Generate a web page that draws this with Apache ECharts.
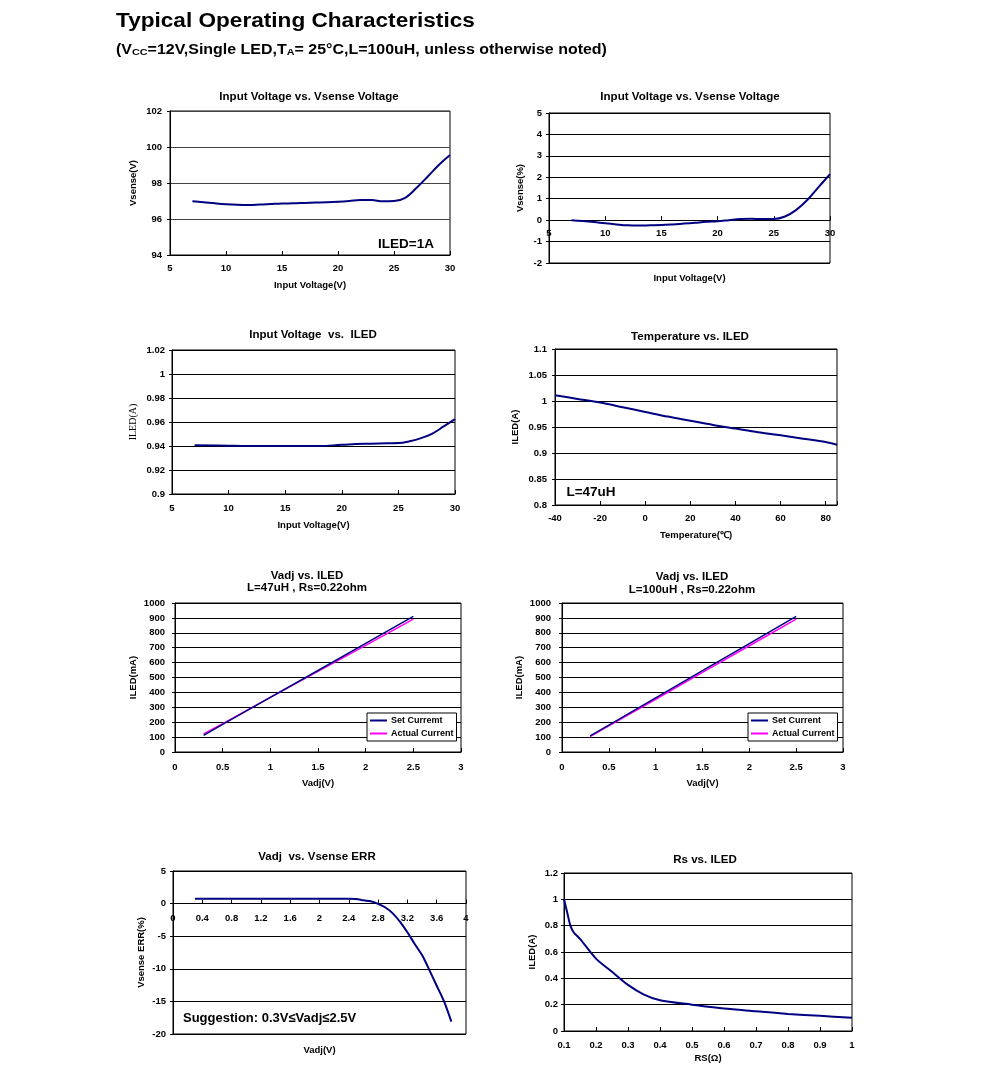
<!DOCTYPE html>
<html><head><meta charset="utf-8">
<script src="https://cdn.jsdelivr.net/npm/echarts@6/dist/echarts.min.js"></script>
<style>html,body{margin:0;padding:0;background:#fff}#c{width:991px;height:1073px}</style>
</head><body><div id="c"></div>
<script>
// ---- data ----
const c1X = [7,8,9,10,11,12,13,14,15,16,17,18,19,20,21,22,23,24,25,26,27,28,29,30];
const c1Y = [96.98,96.93,96.87,96.82,96.79,96.78,96.8,96.83,96.86,96.87,96.89,96.91,96.93,96.96,97.0,97.05,97.05,96.98,97.0,97.18,97.72,98.35,99.0,99.55];
const c2X = [7,8,9,10,11,12,13,14,15,16,17,18,19,20,21,22,23,24,25,26,27,28,29,30];
const c2Y = [0,-0.04,-0.09,-0.15,-0.2,-0.24,-0.25,-0.24,-0.23,-0.2,-0.16,-0.12,-0.08,-0.05,0,0.05,0.06,0.05,0.05,0.17,0.48,0.95,1.55,2.15];
const c3X = [7,10,12,15,18,20,22,24,25,26,27,28,29,30];
const c3Y = [0.9407,0.9402,0.940,0.940,0.940,0.941,0.9418,0.9422,0.9424,0.944,0.9466,0.9504,0.9563,0.9624];
const c4X = [-40,-30,-20,-10,0,10,20,30,40,50,60,70,80,85];
const c4Y = [1.011,1.004,0.997,0.988,0.979,0.970,0.962,0.954,0.947,0.940,0.934,0.9276,0.921,0.916];
const c5X = [0.3,0.5,1.0,1.5,2.0,2.5];
const c5Set = [112,185,366,547,729,910];
const c5Act = [122,191,366,541,716,892];
const c6X = [0.3,0.5,1.0,1.5,2.0,2.5];
const c6Set = [108,181,363,546,728,910];
const c6Act = [103,175,354,534,713,892];
const c7X = [0.3,0.8,1.2,1.6,2.0,2.4,2.5,2.6,2.7,2.8,2.9,3.0,3.1,3.2,3.3,3.4,3.45,3.5,3.6,3.7,3.8];
const c7Y = [0.75,0.75,0.75,0.75,0.75,0.75,0.72,0.5,0.35,-0.05,-0.6,-1.5,-2.8,-4.4,-6.2,-7.9,-9.0,-10.2,-12.6,-15.0,-18.1];
const c8X = [0.1,0.11,0.12,0.13,0.15,0.2,0.25,0.3,0.35,0.4,0.5,0.6,0.7,0.8,0.9,1.0];
const c8Y = [1.0,0.9,0.8,0.75,0.7,0.55,0.45,0.35,0.276,0.233,0.2,0.17,0.15,0.13,0.115,0.1];

const FONT = '"Liberation Sans", Arial, sans-serif';
const NAVY = '#000080', PINK = '#ff00ff';
const pairs = (xs, ys) => xs.map((x, i) => [x, ys[i]]);

const grids = [
  {left:170, top:111, width:280, height:144},
  {left:549, top:113, width:281, height:150},
  {left:172, top:350, width:283, height:144},
  {left:555, top:349, width:282, height:156},
  {left:175, top:603, width:286, height:149},
  {left:562, top:603, width:281, height:149},
  {left:173, top:871, width:293, height:163},
  {left:564, top:873, width:288, height:158}
].map(g => Object.assign({show:true, borderColor:'#000', borderWidth:1, backgroundColor:'#fff', containLabel:false, outerBoundsMode:'none'}, g));

// distance (px) from a grid's bottom edge up to its y=0 line, for axes drawn across zero
const zeroLift = (g, min, max) => g.height * (0 - min) / (max - min);

const lbl = (extra) => Object.assign({color:'#000', fontFamily:FONT, fontWeight:'bold', fontSize:9.5}, extra||{});
const nameStyle = (extra) => Object.assign({color:'#000', fontFamily:FONT, fontWeight:'bold', fontSize:9.5}, extra||{});
const plain = v => String(+v.toFixed(6));

function xA(i, min, max, interval, name, gap, opt) {
  opt = opt || {};
  return {
    type:'value', gridIndex:i, min, max, interval, offset: opt.offset || 0,
    name, nameLocation:'middle', nameGap:gap, nameTextStyle:nameStyle(), nameMoveOverlap:false,
    axisLine:{show:true, onZero:false, lineStyle:{color:'#000', width:1}},
    axisTick:{show:true, inside:true, length:4, lineStyle:{color:'#000'}},
    axisLabel:Object.assign({margin: opt.margin || 8, formatter: opt.fmt || plain, hideOverlap:false}, lbl()),
    splitLine:{show:false}
  };
}
function yA(i, min, max, interval, name, gap, opt) {
  opt = opt || {};
  return {
    type:'value', gridIndex:i, min, max, interval,
    name, nameLocation:'middle', nameGap:gap, nameRotate:90, nameMoveOverlap:false,
    nameTextStyle:nameStyle(opt.nameStyle),
    axisLine:{show:true, onZero:false, lineStyle:{color:'#000', width:1}},
    axisTick:{show:true, inside:false, length:3, lineStyle:{color:'#000'}},
    axisLabel:Object.assign({margin: opt.margin || 7, formatter: plain, hideOverlap:false}, lbl()),
    splitLine:{show:true, lineStyle:{color: opt.split || '#000', width:1}}
  };
}
function line(i, name, data, color, smooth, width) {
  return {type:'line', name, xAxisIndex:i, yAxisIndex:i, data, showSymbol:false, symbol:'none',
    smooth: smooth, lineStyle:{color, width: width || 2}, itemStyle:{color}, animation:false, z:3};
}

const xAxes = [
  xA(0, 5, 30, 5, 'Input Voltage(V)', 25),
  xA(1, 5, 30, 5, 'Input Voltage(V)', 53, {offset: -zeroLift(grids[1], -2, 5)}),
  xA(2, 5, 30, 5, 'Input Voltage(V)', 26, {margin:9}),
  xA(3, -40, 85, 20, 'Temperature(℃)', 25, {fmt: v => (v % 20 === 0 ? String(v) : '')}),
  xA(4, 0, 3, 0.5, 'Vadj(V)', 26, {margin:10}),
  xA(5, 0, 3, 0.5, 'Vadj(V)', 26, {margin:10}),
  xA(6, 0, 4, 0.4, 'Vadj(V)', 142, {offset: -zeroLift(grids[6], -20, 5), margin:10}),
  xA(7, 0.1, 1, 0.1, 'RS(Ω)', 22, {margin:9})
];
const yAxes = [
  yA(0, 94, 102, 2, 'Vsense(V)', 32, {margin:8, split:'#444'}),
  yA(1, -2, 5, 1, 'Vsense(%)', 24),
  yA(2, 0.9, 1.02, 0.02, 'ILED(A)', 34, {nameStyle:{fontFamily:'"Liberation Serif", "Times New Roman", serif', fontWeight:'normal', fontSize:10}}),
  yA(3, 0.8, 1.1, 0.05, 'ILED(A)', 35, {margin:8}),
  yA(4, 0, 1000, 100, 'ILED(mA)', 37, {margin:10}),
  yA(5, 0, 1000, 100, 'ILED(mA)', 38, {margin:11}),
  yA(6, -20, 5, 5, 'Vsense ERR(%)', 27),
  yA(7, 0, 1.2, 0.2, 'ILED(A)', 27, {margin:6})
];

const series = [
  line(0, 'c1', pairs(c1X, c1Y), NAVY, 0.4),
  line(1, 'c2', pairs(c2X, c2Y), NAVY, 0.4),
  line(2, 'c3', pairs(c3X, c3Y), NAVY, 0.4),
  line(3, 'c4', pairs(c4X, c4Y), NAVY, 0.3),
  line(4, 'Set Curremt', pairs(c5X, c5Set), NAVY, false, 1.5),
  line(4, 'Actual Current', pairs(c5X, c5Act), PINK, false, 1.5),
  line(5, 'Set Current', pairs(c6X, c6Set), NAVY, false, 1.5),
  line(5, 'Actual Current', pairs(c6X, c6Act), PINK, false, 1.5),
  line(6, 'c7', pairs(c7X, c7Y), NAVY, 0.3),
  line(7, 'c8', pairs(c8X, c8Y), NAVY, 0.3)
];
series[4].z = 4; series[6].z = 4;

function legend(left, top, names) {
  return {show:true, left, top, orient:'vertical', data:names, selectedMode:false,
    backgroundColor:'#fff', borderColor:'#000', borderWidth:1, padding:[3,3,3,3], itemGap:4,
    icon:'rect', itemWidth:17, itemHeight:2, itemStyle:{borderWidth:0},
    textStyle:{color:'#000', fontFamily:FONT, fontWeight:'bold', fontSize:9, padding:[0,0,0,-1]}};
}

function txt(x, y, text, size, opt) {
  opt = opt || {};
  return {type:'text', x, y, z:100, scaleX: opt.sx || 1, style:{text, fill:'#000',
    font: (opt.weight || 'bold') + ' ' + size + 'px ' + FONT,
    align: opt.align || 'center', verticalAlign:'middle'}};
}

const graphics = [
  txt(116, 21, 'Typical Operating Characteristics', 20, {align:'left', sx:1.13}),
  {type:'text', x:116, y:50, z:100, scaleX:1.14, style:{
    text:'(V{s|CC}=12V,Single LED,T{s|A}= 25°C,L=100uH, unless otherwise noted)',
    fill:'#000', font:'bold 14px ' + FONT, align:'left', verticalAlign:'middle',
    rich:{s:{fontSize:9.5, fontWeight:'bold', fontFamily:FONT, fill:'#000', verticalAlign:'bottom', padding:[3,0,0,0]}}}},
  txt(309, 97, 'Input Voltage vs. Vsense Voltage', 11, {sx:1.05}),
  txt(690, 97, 'Input Voltage vs. Vsense Voltage', 11, {sx:1.05}),
  txt(313, 335, 'Input Voltage  vs.  ILED', 11, {sx:1.05}),
  txt(690, 337, 'Temperature vs. ILED', 11, {sx:1.05}),
  txt(307, 576, 'Vadj vs. ILED', 11, {sx:1.05}),
  txt(307, 588, 'L=47uH , Rs=0.22ohm', 11, {sx:1.05}),
  txt(692, 577, 'Vadj vs. ILED', 11, {sx:1.05}),
  txt(692, 590, 'L=100uH , Rs=0.22ohm', 11, {sx:1.05}),
  txt(317, 857, 'Vadj  vs. Vsense ERR', 11, {sx:1.05}),
  txt(705, 860, 'Rs vs. ILED', 11, {sx:1.05}),
  txt(406, 244, 'ILED=1A', 13.5),
  txt(591, 492, 'L=47uH', 13.5),
  txt(183, 1018, 'Suggestion: 0.3V≤Vadj≤2.5V', 13, {align:'left'})
];

const chart = echarts.init(document.getElementById('c'), null, {renderer:'canvas'});
chart.setOption({
  animation:false,
  backgroundColor:'#fff',
  grid: grids,
  xAxis: xAxes,
  yAxis: yAxes,
  series,
  legend: [
    legend(367, 713, ['Set Curremt','Actual Current']),
    legend(748, 713, ['Set Current','Actual Current'])
  ],
  graphic: graphics
});
</script>
</body></html>
